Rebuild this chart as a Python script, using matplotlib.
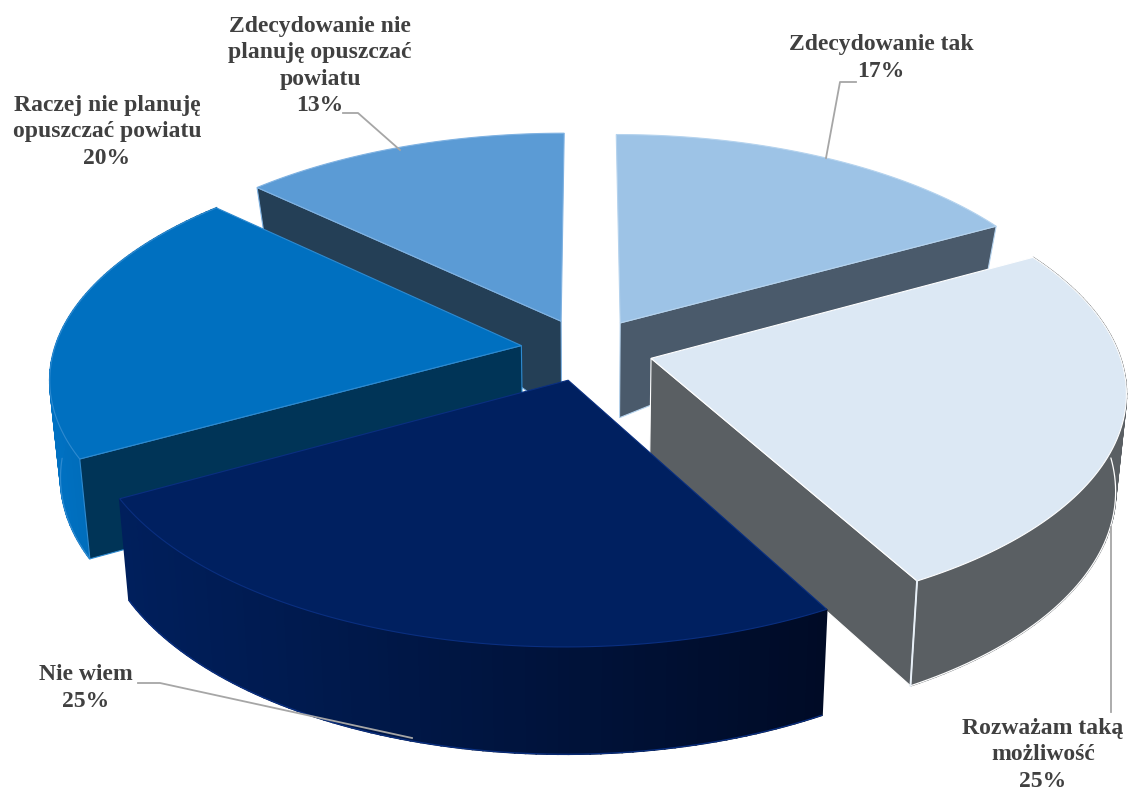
import numpy as np
import matplotlib
matplotlib.use('Agg')
import matplotlib.pyplot as plt
from matplotlib.patches import Polygon

labels = ['Zdecydowanie tak', 'Rozważam taką\nmożliwość', 'Nie wiem',
          'Raczej nie planuję\nopuszczać powiatu', 'Zdecydowanie nie\nplanuję opuszczać\npowiatu']
values = [17, 25, 25, 20, 13]

top_colors = ['#9DC3E6', '#DCE8F4', '#002060', '#0070C0', '#5B9BD5']
side_colors = ['#4A5A6B', '#5A5F63', '#001A4F', '#003457', '#243F56']
rim_left = ['#4A5A6B', '#5A5F63', '#001F5C', '#0071C2', '#243F56']
rim_right = ['#4A5A6B', '#5A5F63', '#000B26', '#005C9E', '#243F56']
edge_colors = ['#B5D3EE', '#FFFFFF', '#0A2F80', '#2E8AD0', '#7FB2E2']

# projection of the tilted pie, in picture pixels
cx, cy = 587, 349.5
R, Ry, k = 467, 221, 0.137
explode = 0.142


def project(x, y):
  s = 1 / (1 + k * y)
  return cx + R * x * s, cy - Ry * y * s


def depth(y):
  return np.interp(y, [-1.2, -0.48, 0.12, 0.6, 0.85], [108, 100, 95, 44, 44])


def lower(X, Y, y):
  return cx + (X - cx) * 0.98, Y + depth(y)


fig = plt.figure(figsize=(11.28, 7.94), dpi=100)
ax = fig.add_axes([0, 0, 1, 1])
ax.set_xlim(0, 1128)
ax.set_ylim(794, 0)
ax.axis('off')

edges = np.cumsum([0] + values) / sum(values) * 2 * np.pi
slices = []
for i in range(len(values)):
  a0, a1 = edges[i], edges[i + 1]
  mid = (a0 + a1) / 2
  ex, ey = explode * np.sin(mid), explode * np.cos(mid)
  px, py = project(ex, ey)
  t = np.linspace(a0, a1, 80)
  X, Y = project(ex + np.sin(t), ey + np.cos(t))
  slices.append(dict(t=t, X=X, Y=Y, ax=px, ay=py, ay3=ey, y3=ey + np.cos(t)))


def wall(i, j):
  # flat cut face between apex and rim point j
  s = slices[i]
  n = 20
  ys = np.linspace(s['ay3'], s['y3'][j], n)
  xs = np.linspace(s['ax'], s['X'][j], n)
  yy = np.linspace(s['ay'], s['Y'][j], n)
  bx, by = lower(xs, yy, ys)
  pts = np.r_[np.c_[xs, yy], np.c_[bx, by][::-1]]
  ax.add_patch(Polygon(pts, closed=True, fc=side_colors[i], ec=edge_colors[i], lw=0.8))


def rim(i):
  # outer curved side, drawn in strips so it can darken across
  s = slices[i]
  X, Y = s['X'], s['Y']
  bx, by = lower(X, Y, s['y3'])
  c0 = np.array(matplotlib.colors.to_rgb(rim_left[i]))
  c1 = np.array(matplotlib.colors.to_rgb(rim_right[i]))
  lo, hi = X.min(), X.max()
  for j in range(len(X) - 1):
    f = ((X[j] + X[j + 1]) / 2 - lo) / (hi - lo)
    pts = [(X[j], Y[j]), (X[j + 1], Y[j + 1]), (bx[j + 1], by[j + 1]), (bx[j], by[j])]
    col = c0 + (c1 - c0) * f
    ax.add_patch(Polygon(pts, closed=True, fc=col, ec=col, lw=1.2))
  # only the front part of the lower edge shows
  front = s['y3'] < -0.05
  ax.plot(bx[front], by[front], color=edge_colors[i], lw=0.9, solid_capstyle='round', zorder=1)


def top(i):
  s = slices[i]
  pts = np.r_[[(s['ax'], s['ay'])], np.c_[s['X'], s['Y']]]
  ax.add_patch(Polygon(pts, closed=True, fc=top_colors[i], ec=edge_colors[i], lw=0.8))


# back to front
wall(4, 0)
top(4)
wall(0, -1)
top(0)
rim(3)
wall(3, 0)
top(3)
rim(1)
wall(1, -1)
top(1)
s1 = slices[1]
bx1, by1 = lower(s1['X'][-1], s1['Y'][-1], s1['y3'][-1])
ax.plot([s1['X'][-1], bx1], [s1['Y'][-1], by1], color='#E8F0F8', lw=1.4, zorder=1)
rim(2)
top(2)

# leader lines
leader_x = [[826, 840, 856], [1111, 1111], [138, 160, 412], [343, 358, 400]]
leader_y = [[158, 82, 82], [527, 712], [683, 683, 738], [113, 113, 150]]
for lx, ly in zip(leader_x, leader_y):
  ax.plot(lx, ly, color='#A6A6A6', lw=1.3, zorder=5)

label_x = [881, 1043, 86, 107, 320]
label_y = [58, 755, 688, 132, 66]
for i in range(len(values)):
  ax.text(label_x[i], label_y[i], labels[i] + '\n' + str(values[i]) + '%', ha='center', va='center',
          family='Liberation Serif', weight='bold', size=17, color='#404040', linespacing=1.34, zorder=6)

fig.savefig('out.png', dpi=100)
